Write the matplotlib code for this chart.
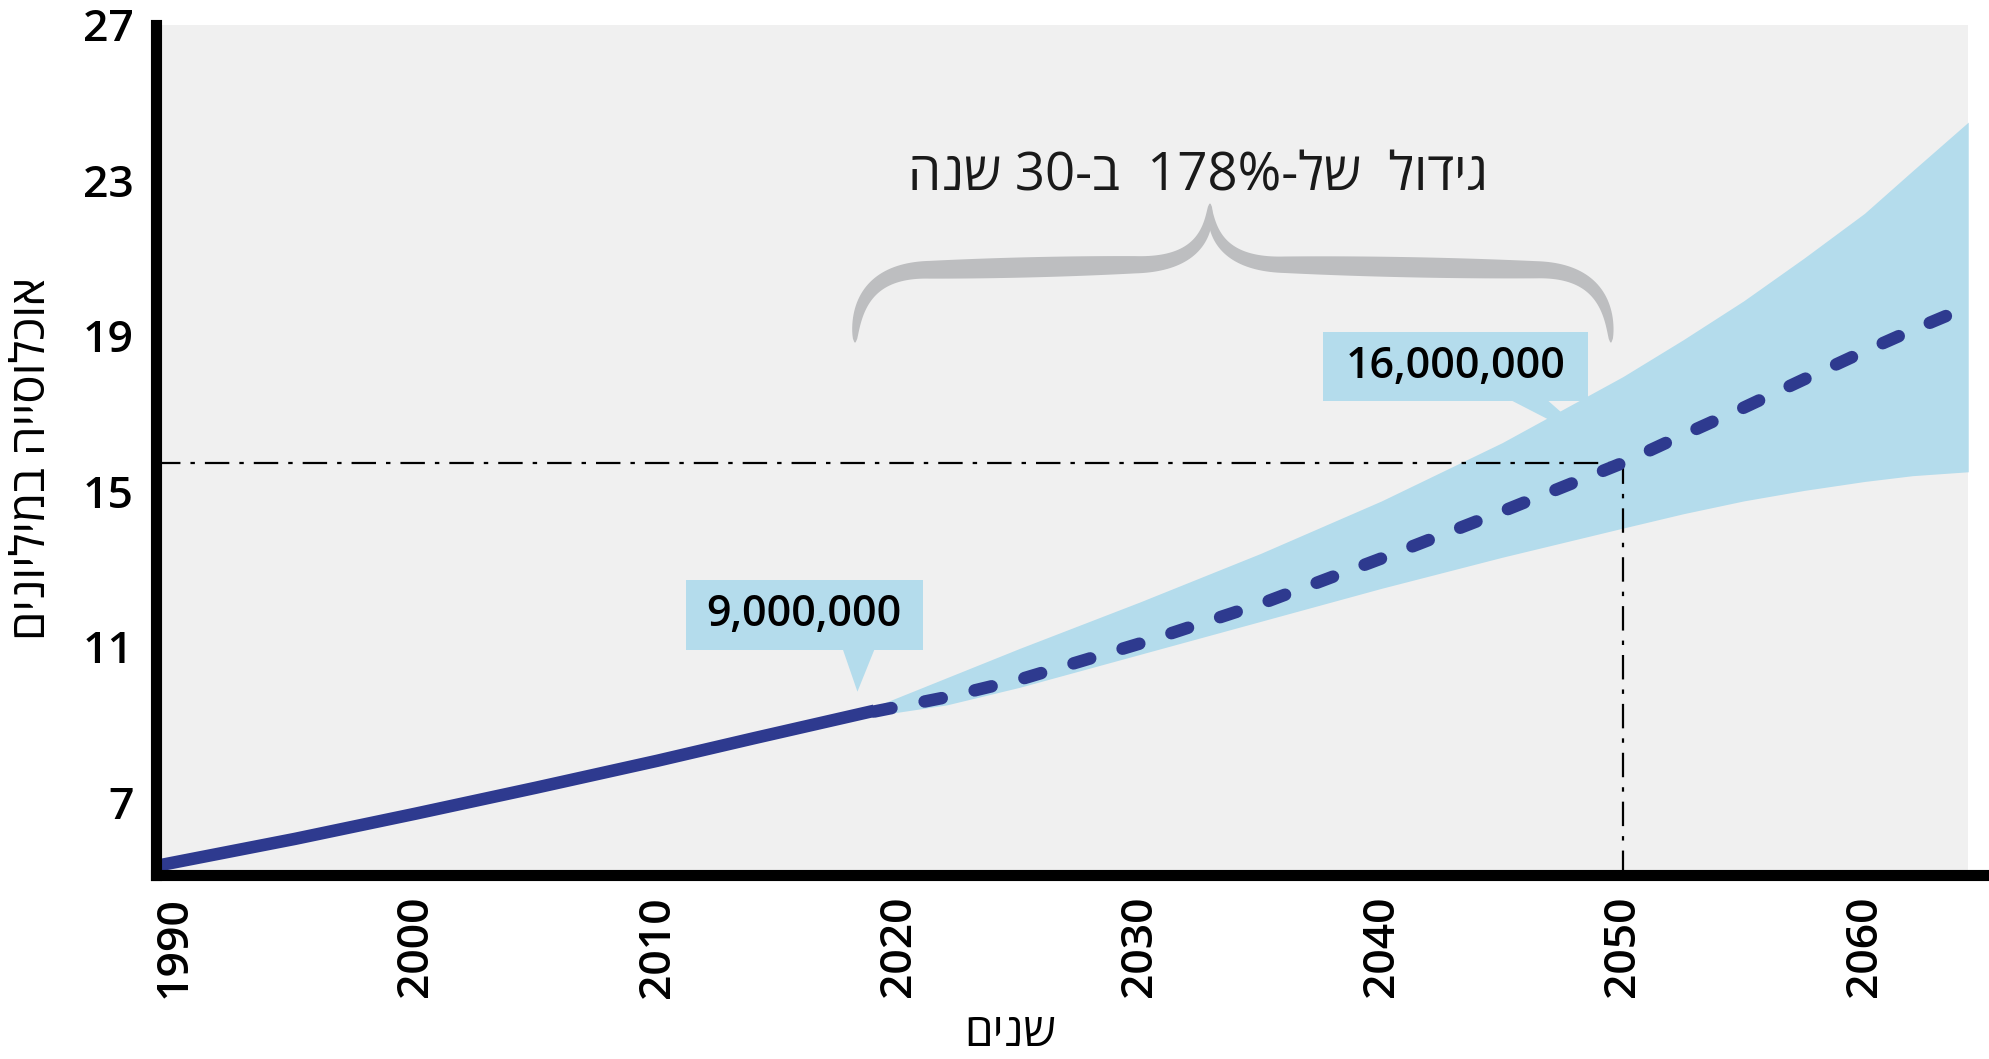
"""Israel population projection chart (Hebrew labels)."""
import re

import matplotlib
matplotlib.use("Agg")
import matplotlib.pyplot as plt
import numpy as np
from matplotlib.patches import Polygon
from matplotlib.transforms import IdentityTransform

# data (population in millions)
hist_years = [1989.3, 1995, 2000, 2005, 2010, 2014, 2019]
hist_pop = [5.36, 6.05, 6.70, 7.37, 8.06, 8.64, 9.35]

proj_years = [2019, 2022, 2025, 2030, 2035, 2040, 2045, 2050, 2052.5, 2055,
              2057.5, 2060, 2062, 2064.3]
proj_mid = [9.33, 9.7, 10.15, 11.08, 12.1, 13.27, 14.48, 15.73, 16.45, 17.15,
            17.88, 18.6, 19.15, 19.75]
proj_high = [9.45, 10.2, 10.95, 12.15, 13.4, 14.75, 16.25, 17.95, 18.9, 19.9,
             21.0, 22.15, 23.25, 24.5]
proj_low = [9.22, 9.5, 9.95, 10.8, 11.65, 12.5, 13.3, 14.05, 14.42, 14.75,
            15.02, 15.25, 15.4, 15.5]

y_ticks = [7, 11, 15, 19, 23, 27]
x_ticks = [1990, 2000, 2010, 2020, 2030, 2040, 2050, 2060]

ref_year = 2050
ref_value = proj_mid[proj_years.index(ref_year)]

callout_now = "9,000,000"
callout_future = "16,000,000"
title_text = "גידול  של-178%  ב-30 שנה"
ylabel_text = "אוכלוסייה במיליונים"
xlabel_text = "שנים"

NAVY = "#2e3a8f"
BAND = "#b4dcec"
PANEL = "#f0f0f0"
BRACE = "#bdbec0"

HEB = ["Open Sans", "DejaVu Sans"]


def visual(s):
    # matplotlib has no bidi: reverse Hebrew, keep number runs in order
    r = s[::-1]
    return re.sub(r"[0-9%,.]+", lambda m: m.group(0)[::-1], r)


fig = plt.figure(figsize=(19.89, 10.59), dpi=100)
ax = fig.add_axes([0.0784, 0.1737, 0.9216, 0.8027])
ax.set_facecolor("white")
ax.set_xlim(1989.25, 2065.16)
ax.set_ylim(5.12, 27)

ax.axvspan(1989.25, proj_years[-1], color=PANEL, zorder=0, lw=0)

ax.fill_between(proj_years, proj_low, proj_high, color=BAND, lw=0, zorder=1)
ax.plot(hist_years, hist_pop, color=NAVY, lw=9, solid_capstyle="butt",
        solid_joinstyle="round", zorder=3)
ax.plot(proj_years, proj_mid, color=NAVY, lw=9, dash_capstyle="round",
        dashes=(1.4, 2.7), zorder=3)

# reference dash-dot lines at 2050
ax.plot([1989.25, ref_year], [ref_value, ref_value], color="black", lw=1.6,
        dashes=(11, 4.5, 2, 4.5), zorder=2)
ax.plot([ref_year, ref_year], [5.12, ref_value], color="black", lw=1.6,
        dashes=(11, 4.5, 2, 4.5), zorder=2)

for side in ["top", "right"]:
    ax.spines[side].set_visible(False)
for side in ["left", "bottom"]:
    ax.spines[side].set_linewidth(8)
    ax.spines[side].set_color("black")
    ax.spines[side].set_zorder(5)

ax.set_yticks(y_ticks)
ax.set_xticks(x_ticks)
ax.tick_params(length=0)
ax.tick_params(axis="y", pad=16)
ax.tick_params(axis="x", pad=15)
for lab in ax.get_yticklabels() + ax.get_xticklabels():
    lab.set_fontfamily(HEB)
    lab.set_fontweight("semibold")
    lab.set_fontsize(32)
for lab in ax.get_xticklabels():
    lab.set_rotation(90)

fig.text(0.016, 0.567, visual(ylabel_text), rotation=90, ha="center", va="center",
         fontsize=34, family=HEB)
fig.text(0.508, 0.024, visual(xlabel_text), ha="center", va="center",
         fontsize=33, family=HEB)


# callout boxes with pointers
def callout(x0, x1, y0, y1, base, tip, text):
    ax.add_patch(Polygon([(x0, y0), (x1, y0), (x1, y1), (x0, y1)], closed=True,
                         color=BAND, lw=0, zorder=4))
    ax.add_patch(Polygon([(base[0], y0), (base[1], y0), tip], closed=True,
                         color=BAND, lw=0, zorder=4))
    ax.text((x0 + x1) / 2, (y0 + y1) / 2, text, ha="center", va="center",
            fontsize=31, family=HEB, weight="semibold", zorder=6)


callout(2011.2, 2021.0, 10.92, 12.72, (2017.7, 2019.0), (2018.3, 9.84), callout_now)
callout(2037.6, 2048.55, 17.33, 19.09, (2045.4, 2046.9), (2049.0, 16.18), callout_future)

# curly brace over 2018-2050
fig.canvas.draw()
tr = ax.transData
X0, Yb = tr.transform((2018.2, 18.83))
X1, _ = tr.transform((2049.5, 18.83))
Xc, Ya = tr.transform((2032.9, 20.7))
_, Yt = tr.transform((2032.9, 22.4))


def quad(p0, p1, p2, n=40):
    t = np.linspace(0, 1, n)[:, None]
    return (1 - t) ** 2 * np.array(p0) + 2 * (1 - t) * t * np.array(p1) + t ** 2 * np.array(p2)


r = 75
left = np.vstack([
    quad((X0, Yb), (X0, Ya), (X0 + r, Ya)),
    np.linspace((X0 + r, Ya), (Xc - r, Ya + 5), 40)[1:],
    quad((Xc - r, Ya + 5), (Xc, Ya + 5), (Xc, Yt))[1:],
])
right = np.vstack([
    quad((Xc, Yt), (Xc, Ya + 5), (Xc + r, Ya + 5))[1:],
    np.linspace((Xc + r, Ya + 5), (X1 - r, Ya), 40)[1:],
    quad((X1 - r, Ya), (X1, Ya), (X1, Yb))[1:],
])


def stroke(pts, wmax=19):
    d = np.gradient(pts, axis=0)
    seg = np.hypot(d[:, 0], d[:, 1])
    nrm = np.column_stack([-d[:, 1], d[:, 0]]) / seg[:, None]
    s = np.concatenate([[0], np.cumsum(np.hypot(*np.diff(pts, axis=0).T))])
    t = s / s[-1]
    w = wmax * np.clip(np.sin(np.pi * t), 0, 1) ** 0.5 / 2 + 0.6
    up = pts + nrm * w[:, None]
    dn = pts - nrm * w[:, None]
    return np.vstack([up, dn[::-1]])


for half in (left, right):
    fig.patches.append(Polygon(stroke(half), closed=True, color=BRACE, lw=0,
                               transform=IdentityTransform(), figure=fig))

ax.text(2032.4, 23.1, visual(title_text), ha="center", va="center",
        fontsize=38, family=HEB, zorder=6, color="#1a1a1a")

fig.savefig("out.png", dpi=100)
